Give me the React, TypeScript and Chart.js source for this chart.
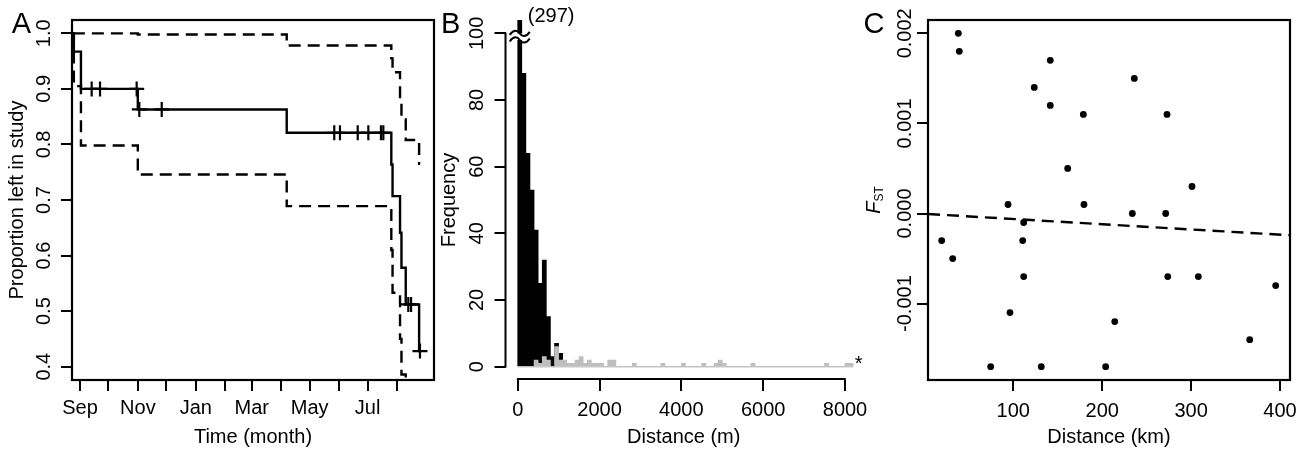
import React, { useEffect, useRef } from 'react';
import { Chart, registerables } from 'chart.js';

Chart.register(...registerables);

const FONT = '"Liberation Sans", Arial, Helvetica, sans-serif';
Chart.defaults.font.family = FONT;
Chart.defaults.font.size = 20;
Chart.defaults.color = '#000';

// ---------------- Panel A : Kaplan-Meier (days since 1 Sep) ----------------
const monthStartDays = [0, 30, 61, 91, 122, 153, 181, 212, 242, 273, 303, 334];
const monthLabels = ['Sep', '', 'Nov', '', 'Jan', '', 'Mar', '', 'May', '', 'Jul', ''];
const survTicks = [0.4, 0.5, 0.6, 0.7, 0.8, 0.9, 1.0];
const kmTimes = [-7.5, -6.5, 1, 60.9, 217.8, 328, 329.3, 337.2, 338.7, 343.2, 357.3, 358.2];
const kmSurv = [1.0, 0.967, 0.9, 0.863, 0.821, 0.764, 0.707, 0.641, 0.578, 0.512, 0.428, 0.428];
const kmUpper = [1.0, 1.0, 1.0, 0.998, 0.978, 0.955, 0.93, 0.878, 0.845, 0.808, 0.765, 0.765];
const kmLower = [1.0, 0.905, 0.798, 0.746, 0.689, 0.61, 0.533, 0.45, 0.386, 0.3, 0.2, 0.2];
const censorTimes = [12.3, 21.1, 59.7, 62.5, 86.1, 267.9, 273.9, 292.6, 303.8, 317.1, 319.6, 345.9, 348.8, 358.2];
const censorSurv = [0.9, 0.9, 0.9, 0.863, 0.863, 0.821, 0.821, 0.821, 0.821, 0.821, 0.821, 0.512, 0.512, 0.428];

// ---------------- Panel B : histogram of distances (100 m bins) ----------------
const binWidthM = 100;
const residentCounts = [297, 88, 64, 53, 41, 25, 32, 15, 3, 7, 4];
const dispersalCounts = [
  0, 0, 0, 0, 2, 1, 3, 2, 0, 6,
  2, 2, 1, 1, 2, 3, 1, 2, 1, 1,
  1, 0, 2, 2, 0, 0, 0, 0, 1, 0,
  0, 0, 0, 0, 0, 1, 0, 0, 0, 0,
  1, 0, 0, 0, 0, 1, 0, 0, 1, 2,
  1, 0, 0, 0, 0, 0, 0, 1, 0, 0,
  0, 0, 0, 0, 0, 0, 0, 0, 0, 0,
  0, 0, 0, 0, 0, 1, 0, 0, 0, 0,
  1, 1,
];
const freqTicks = [0, 20, 40, 60, 80, 100];
const distTicksM = [0, 2000, 4000, 6000, 8000];
const brokenValue = 297;

// ---------------- Panel C : FST vs distance ----------------
const distKm = [38.2, 39.3, 141.6, 236.1, 123.6, 141.6, 178.8, 272.9, 161.2, 301.0, 94.1, 179.5, 233.9, 271.4,
  111.7, 19.5, 110.6, 31.9, 111.7, 273.7, 308.1, 395.1, 96.3, 214.1, 365.9, 74.6, 131.5, 203.9];
const fstValues = [0.002, 0.0018, 0.0017, 0.0015, 0.0014, 0.0012, 0.0011, 0.0011, 0.0005, 0.0003, 0.0001, 0.0001, 0, 0,
  -0.0001, -0.0003, -0.0003, -0.0005, -0.0007, -0.0007, -0.0007, -0.0008, -0.0011, -0.0012, -0.0014, -0.0017, -0.0017, -0.0017];
const fstIntercept = -0.000003;
const fstSlope = -0.00000058;
const fstTicks = [-0.001, 0, 0.001, 0.002];
const kmTicks = [100, 200, 300, 400];

const W = 1305;
const H = 450;

const zip = (xs: number[], ys: number[]) => xs.map((x, i) => ({ x, y: ys[i] }));

const tickGrid = () => ({
  display: true,
  drawOnChartArea: false,
  drawTicks: true,
  offset: false,
  tickLength: 11,
  tickWidth: 2,
  tickColor: '#000',
  color: '#000',
  lineWidth: 2,
});

const boxPlugin = {
  id: 'boxFrame',
  afterDraw(chart: any) {
    const { ctx, chartArea: a } = chart;
    ctx.save();
    ctx.strokeStyle = '#000';
    ctx.lineWidth = 2.2;
    ctx.strokeRect(a.left, a.top, a.right - a.left, a.bottom - a.top);
    ctx.restore();
  },
};

const letterPlugin = (letter: string, x: number) => ({
  id: 'panelLetter',
  afterDraw(chart: any) {
    const ctx = chart.ctx;
    ctx.save();
    ctx.font = `29px ${FONT}`;
    ctx.fillStyle = '#000';
    ctx.textAlign = 'left';
    ctx.textBaseline = 'alphabetic';
    ctx.fillText(letter, x, 33.3);
    ctx.restore();
  },
});

const baseOptions = () => ({
  animation: false as const,
  responsive: false,
  devicePixelRatio: 1,
  events: [] as any[],
  plugins: { legend: { display: false }, tooltip: { enabled: false } },
});

function makeA(canvas: HTMLCanvasElement) {
  const lineDs = (ys: number[], dashed: boolean) => ({
    type: 'line' as const,
    data: zip(kmTimes, ys),
    borderColor: '#000',
    borderWidth: 2.4,
    borderDash: dashed ? [12, 7] : [],
    stepped: 'before' as const,
    pointRadius: 0,
    fill: false,
  });
  return new Chart(canvas, {
    type: 'line',
    data: {
      datasets: [
        lineDs(kmSurv, false),
        lineDs(kmUpper, true),
        lineDs(kmLower, true),
        {
          type: 'line',
          data: zip(censorTimes, censorSurv),
          showLine: false,
          pointStyle: 'cross',
          pointRadius: 7.5,
          pointBorderWidth: 2.2,
          pointBorderColor: '#000',
          pointBackgroundColor: '#000',
        } as any,
      ],
    },
    options: {
      ...baseOptions(),
      layout: { padding: { left: 0, top: 20, right: W - 434, bottom: 0 } },
      scales: {
        x: {
          type: 'linear',
          bounds: 'data',
          offset: false,
          min: -8.43,
          max: 372.98,
          afterBuildTicks: (s: any) => { s.ticks = monthStartDays.map((v) => ({ value: v })); },
          afterFit: (s: any) => { s.height = 70; s.paddingLeft = 0; s.paddingRight = 0; },
          ticks: {
            callback: (_v: any, i: number) => monthLabels[i],
            autoSkip: false, minRotation: 0, maxRotation: 0, padding: 5, color: '#000',
          },
          grid: tickGrid(),
          border: { display: false },
          title: { display: true, text: 'Time (month)', color: '#000', font: { size: 20 }, padding: { top: 0, bottom: 1 } },
        },
        y: {
          type: 'linear',
          bounds: 'data',
          min: 0.376,
          max: 1.024,
          afterBuildTicks: (s: any) => { s.ticks = survTicks.map((v) => ({ value: v })); },
          afterFit: (s: any) => { s.width = 72; s.paddingTop = 0; s.paddingBottom = 0; },
          ticks: {
            callback: (v: any) => Number(v).toFixed(1),
            autoSkip: false, minRotation: 90, maxRotation: 90, crossAlign: 'center', padding: 3, color: '#000',
          },
          grid: tickGrid(),
          border: { display: false },
          title: { display: true, text: 'Proportion left in study', color: '#000', font: { size: 20 }, padding: { top: 5.5, bottom: 0 } },
        },
      },
    } as any,
    plugins: [boxPlugin, letterPlugin('A', 11.7)],
  });
}

function makeB(canvas: HTMLCanvasElement) {
  const centers = dispersalCounts.map((_c, i) => i * binWidthM + binWidthM / 2);
  const lastEdge = dispersalCounts.length * binWidthM;
  const axesPlugin = {
    id: 'histAxes',
    afterDatasetsDraw(chart: any) {
      const { ctx, chartArea: a, scales } = chart;
      const xs = scales.x;
      const ys = scales.y;
      ctx.save();
      // R-style axis lines spanning first..last tick
      ctx.strokeStyle = '#000';
      ctx.lineWidth = 2;
      ctx.lineCap = 'round';
      ctx.beginPath();
      ctx.moveTo(xs.getPixelForValue(distTicksM[0]), a.bottom - 1);
      ctx.lineTo(xs.getPixelForValue(distTicksM[distTicksM.length - 1]), a.bottom - 1);
      ctx.moveTo(a.left, ys.getPixelForValue(freqTicks[0]));
      ctx.lineTo(a.left, ys.getPixelForValue(freqTicks[freqTicks.length - 1]));
      ctx.stroke();
      // axis-break mark on the first bar
      const cx = xs.getPixelForValue(binWidthM / 2);
      const yMid = ys.getPixelForValue(99);
      const y1 = yMid - 3.3;
      const y2 = yMid + 3.3;
      ctx.fillStyle = '#fff';
      ctx.fillRect(xs.getPixelForValue(0) - 1, y1, xs.getPixelForValue(binWidthM) - xs.getPixelForValue(0) + 2, y2 - y1);
      ctx.lineCap = 'butt';
      const tilde = (y: number) => {
        ctx.moveTo(cx - 10, y + 1.5);
        ctx.bezierCurveTo(cx - 6, y - 4.5, cx - 2, y - 3, cx, y);
        ctx.bezierCurveTo(cx + 2, y + 3, cx + 6, y + 4.5, cx + 10, y - 1.5);
      };
      ctx.beginPath();
      tilde(y1);
      tilde(y2);
      ctx.stroke();
      // texts
      ctx.fillStyle = '#000';
      ctx.font = `20px ${FONT}`;
      ctx.textAlign = 'left';
      ctx.textBaseline = 'middle';
      ctx.fillText(`(${brokenValue})`, xs.getPixelForValue(binWidthM) + 6, a.top - 4);
      ctx.textBaseline = 'alphabetic';
      ctx.fillText('*', xs.getPixelForValue(lastEdge) + 1.5, ys.getPixelForValue(0) + 3.5);
      ctx.restore();
    },
  };
  return new Chart(canvas, {
    type: 'bar',
    data: {
      datasets: [
        {
          type: 'bar',
          data: zip(centers, dispersalCounts),
          backgroundColor: '#bebebe',
          barPercentage: 1,
          categoryPercentage: 1,
          grouped: false,
          order: 0,
        },
        {
          type: 'bar',
          data: zip(centers.slice(0, residentCounts.length), residentCounts),
          backgroundColor: '#000',
          barPercentage: 1,
          categoryPercentage: 1,
          grouped: false,
          order: 1,
        },
        {
          type: 'line',
          data: [{ x: 0, y: 0 }, { x: lastEdge, y: 0 }],
          borderColor: '#c8c8c8',
          borderWidth: 1.5,
          pointRadius: 0,
          order: 2,
        },
      ] as any,
    },
    options: {
      ...baseOptions(),
      layout: { padding: { left: 437, top: 20, right: W - 862, bottom: 0 } },
      scales: {
        x: {
          type: 'linear',
          bounds: 'data',
          offset: false,
          min: -298.2,
          max: 8415.5,
          afterBuildTicks: (s: any) => { s.ticks = distTicksM.map((v) => ({ value: v })); },
          afterFit: (s: any) => { s.height = 70; s.paddingLeft = 0; s.paddingRight = 0; },
          ticks: { callback: (v: any) => String(v), autoSkip: false, minRotation: 0, maxRotation: 0, padding: 7.5, color: '#000' },
          grid: tickGrid(),
          border: { display: false },
          title: { display: true, text: 'Distance (m)', color: '#000', font: { size: 20 }, padding: { top: 0, bottom: 1 } },
        },
        y: {
          type: 'linear',
          bounds: 'data',
          min: -4,
          max: 104,
          afterBuildTicks: (s: any) => { s.ticks = freqTicks.map((v) => ({ value: v })); },
          afterFit: (s: any) => { s.width = 68.5; s.paddingTop = 0; s.paddingBottom = 0; },
          ticks: {
            callback: (v: any) => String(v),
            autoSkip: false, minRotation: 90, maxRotation: 90, crossAlign: 'center', padding: 0, color: '#000',
          },
          grid: tickGrid(),
          border: { display: false },
          title: { display: true, text: 'Frequency', color: '#000', font: { size: 20 }, padding: { top: 0, bottom: 0 } },
        },
      },
    } as any,
    plugins: [axesPlugin, letterPlugin('B', 441)],
  });
}

function makeC(canvas: HTMLCanvasElement) {
  const xMin = 4.1;
  const xMax = 411.2;
  const titlePlugin = {
    id: 'fstTitle',
    afterDraw(chart: any) {
      const { ctx, chartArea: a } = chart;
      ctx.save();
      ctx.translate(880, (a.top + a.bottom) / 2);
      ctx.rotate(-Math.PI / 2);
      ctx.fillStyle = '#000';
      ctx.textBaseline = 'alphabetic';
      ctx.textAlign = 'left';
      const fFont = `italic 20px ${FONT}`;
      const sFont = `12px ${FONT}`;
      ctx.font = fFont;
      const wF = ctx.measureText('F').width;
      ctx.font = sFont;
      const wS = ctx.measureText('ST').width;
      const start = -(wF + wS) / 2;
      ctx.font = fFont;
      ctx.fillText('F', start, 0);
      ctx.font = sFont;
      ctx.fillText('ST', start + wF, 2.5);
      ctx.restore();
    },
  };
  return new Chart(canvas, {
    type: 'scatter',
    data: {
      datasets: [
        {
          type: 'scatter',
          data: zip(distKm, fstValues),
          pointRadius: 3.4,
          pointBackgroundColor: '#000',
          pointBorderWidth: 0,
          pointBorderColor: '#000',
        },
        {
          type: 'line',
          data: [xMin, xMax].map((d) => ({ x: d, y: fstIntercept + fstSlope * d })),
          borderColor: '#000',
          borderWidth: 2.4,
          borderDash: [12, 7],
          pointRadius: 0,
          fill: false,
        },
      ] as any,
    },
    options: {
      ...baseOptions(),
      layout: { padding: { left: 866, top: 20, right: W - 1290, bottom: 0 } },
      scales: {
        x: {
          type: 'linear',
          bounds: 'data',
          offset: false,
          min: xMin,
          max: xMax,
          afterBuildTicks: (s: any) => { s.ticks = kmTicks.map((v) => ({ value: v })); },
          afterFit: (s: any) => { s.height = 70; s.paddingLeft = 0; s.paddingRight = 0; },
          ticks: { callback: (v: any) => String(v), autoSkip: false, minRotation: 0, maxRotation: 0, padding: 8, color: '#000' },
          grid: tickGrid(),
          border: { display: false },
          title: { display: true, text: 'Distance (km)', color: '#000', font: { size: 20 }, padding: { top: 0, bottom: 1 } },
        },
        y: {
          type: 'linear',
          bounds: 'data',
          min: -0.001848,
          max: 0.002148,
          afterBuildTicks: (s: any) => { s.ticks = fstTicks.map((v) => ({ value: v })); },
          afterFit: (s: any) => { s.width = 62; s.paddingTop = 0; s.paddingBottom = 0; },
          ticks: {
            callback: (v: any) => Number(v).toFixed(3),
            autoSkip: false, minRotation: 90, maxRotation: 90, crossAlign: 'center', padding: -16.35, color: '#000',
          },
          grid: tickGrid(),
          border: { display: false },
          title: { display: false },
        },
      },
    } as any,
    plugins: [boxPlugin, titlePlugin, letterPlugin('C', 863.6)],
  });
}

export default function App() {
  const refA = useRef<HTMLCanvasElement>(null);
  const refB = useRef<HTMLCanvasElement>(null);
  const refC = useRef<HTMLCanvasElement>(null);

  useEffect(() => {
    const charts = [
      makeA(refA.current as HTMLCanvasElement),
      makeB(refB.current as HTMLCanvasElement),
      makeC(refC.current as HTMLCanvasElement),
    ];
    return () => charts.forEach((c) => c.destroy());
  }, []);

  const cs: React.CSSProperties = { position: 'absolute', left: 0, top: 0 };
  return (
    <div style={{ position: 'absolute', left: 0, top: 0, width: W, height: H, background: '#fff' }}>
      <canvas ref={refA} width={W} height={H} style={cs} />
      <canvas ref={refB} width={W} height={H} style={cs} />
      <canvas ref={refC} width={W} height={H} style={cs} />
    </div>
  );
}
